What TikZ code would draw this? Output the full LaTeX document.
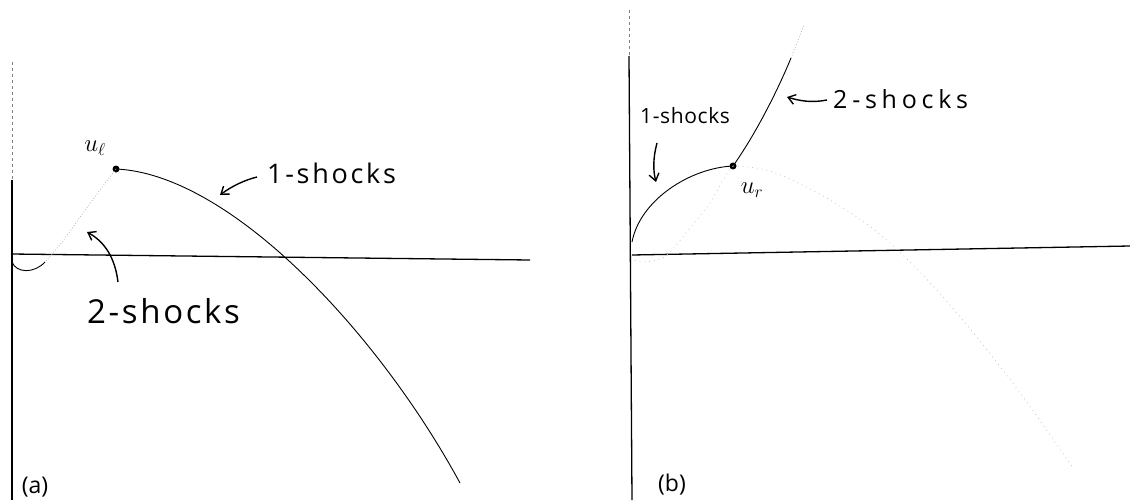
\documentclass[tikz,border=0pt]{standalone}
\usepackage{fontspec}
\setmainfont{Open Sans}
\newfontfamily\lsA[LetterSpace=10]{Open Sans}
\newfontfamily\lsB[LetterSpace=8]{Open Sans}
\newfontfamily\lsC[LetterSpace=19]{Open Sans}
\newfontfamily\lsD[LetterSpace=3]{Open Sans}
\usetikzlibrary{arrows.meta}
\begin{document}
\begin{tikzpicture}[x=1pt,y=-1pt,
  axis/.style={line width=1.3pt,black},
  curve/.style={line width=0.9pt,black},
  faint/.style={line width=0.8pt,gray!60,dotted},
  faintest/.style={line width=0.8pt,gray!45,loosely dotted},
  lbl/.style={inner sep=0pt,anchor=base west},
  ptr/.style={line width=1.4pt,-{Straight Barb[length=7pt,width=10pt]}},
  dot/.style={circle,fill=black,inner sep=0pt,minimum size=7pt}]
\useasboundingbox (0,0) rectangle (1130,503);
% ---------- panel (a)
\coordinate (aTop) at (12,62);
\coordinate (aMid) at (12,180);
\coordinate (aBot) at (12,500);
\coordinate (aL) at (11,254);
\coordinate (aR) at (530,260);
\draw[line width=0.9pt,gray,dashed] (aTop) -- (aMid);
\draw[axis] (aMid) -- (aBot);
\draw[axis] (aL) -- (aR);
\node[dot] (ul) at (116,169) {};
\draw[curve] (ul.center) .. controls (230,174) and (378,332) .. (460,483);
\draw[faint] plot[smooth] coordinates {(116,169) (100,190) (83,213) (62,242) (45,262)};
\draw[curve] (12,262) .. controls (16,273) and (34,274) .. (45,262);
\node[inner sep=0pt,font=\fontsize{24}{24}\selectfont] (ullab) at (95,148) {$u_\ell$};
\node[lbl,font=\lsA\fontsize{27}{27}\selectfont] (a1) at (267,183) {1-shocks};
\coordinate (a1tail) at (257,177);
\coordinate (a1tip) at (220,195);
\draw[ptr] (a1tail) .. controls (245,180) and (232,186) .. (a1tip);
\node[lbl,font=\lsB\fontsize{33}{33}\selectfont] (a2) at (87,323) {2-shocks};
\coordinate (a2tail) at (118,282);
\coordinate (a2tip) at (87,232);
\draw[ptr] (a2tail) .. controls (115,258) and (105,242) .. (a2tip);
\node[inner sep=0pt,font=\fontsize{23}{23}\selectfont] (alab) at (35,487) {(a)};
% ---------- panel (b)
\coordinate (bTop) at (629,10);
\coordinate (bMid) at (629,56);
\coordinate (bBot) at (632,500);
\coordinate (bL) at (632,255);
\coordinate (bR) at (1130,246);
\draw[line width=0.9pt,gray,dashed] (bTop) -- (bMid);
\draw[axis] (bMid) -- (bBot);
\draw[axis] (bL) -- (bR);
\node[dot] (ur) at (733,166) {};
\draw[curve] (632,242) .. controls (640,200) and (690,168) .. (ur.center);
\draw[curve] (ur.center) .. controls (755,135) and (777,92) .. (791,58);
\draw[faint] (791,58) -- (804,25);
\draw[faintest] plot[smooth,tension=0.6] coordinates {(733,166) (773,172) (830,200) (883,237) (943,297) (1012,382) (1073,468)};
\draw[faintest] plot[smooth] coordinates {(733,166) (723,180) (710,203) (690,228) (667,255) (647,262) (633,260)};
\node[inner sep=0pt,font=\fontsize{23}{23}\selectfont] (urlab) at (752,190) {$u_r$};
\node[lbl,font=\lsD\fontsize{21}{21}\selectfont] (b1) at (640,123) {1-shocks};
\coordinate (b1tail) at (657,143);
\coordinate (b1tip) at (656,182);
\draw[ptr] (b1tail) .. controls (653,158) and (653,170) .. (b1tip);
\node[lbl,font=\lsC\fontsize{25}{25}\selectfont] (b2) at (833,108) {2-shocks};
\coordinate (b2tail) at (827,100);
\coordinate (b2tip) at (787,97);
\draw[ptr] (b2tail) .. controls (812,103) and (800,101) .. (b2tip);
\node[inner sep=0pt,font=\fontsize{23}{23}\selectfont] (blab) at (672,485) {(b)};
\end{tikzpicture}
\end{document}
